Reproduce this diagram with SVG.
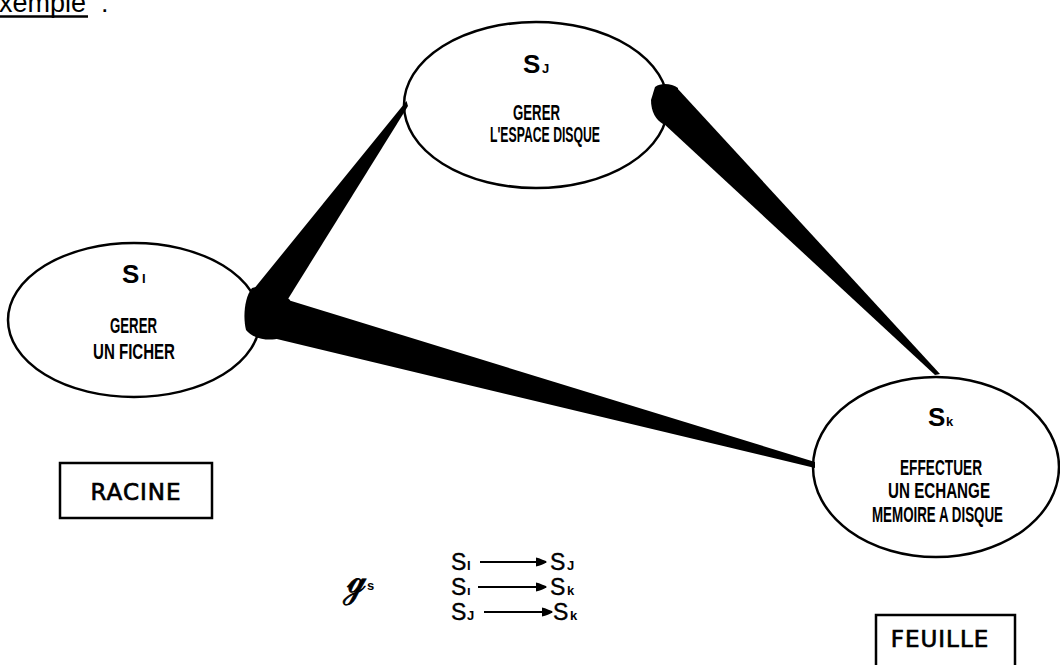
<svg xmlns="http://www.w3.org/2000/svg" width="1060" height="665" viewBox="0 0 1060 665">
<style>
.node{fill:#fff;stroke:#000;stroke-width:2.5}
.box{fill:#fff;stroke:#000;stroke-width:2.5}
.s{font-family:"Liberation Sans",Arial,sans-serif;font-weight:bold;font-size:26px;fill:#000}
.sub{font-family:"Liberation Sans",Arial,sans-serif;font-weight:bold;font-size:13px;fill:#000}
.r{font-family:"Liberation Sans",Arial,sans-serif;font-size:23px;fill:#000;stroke:#000;stroke-width:0.4}
.rs{font-family:"Liberation Sans",Arial,sans-serif;font-weight:bold;font-size:13px;fill:#000}
.d{font-family:"Liberation Sans",Arial,sans-serif;font-weight:bold;font-size:22px;fill:#000}
.lbl{font-family:"DejaVu Sans",sans-serif;font-size:23px;fill:#000;stroke:#000;stroke-width:0.7}
.wedge{fill:#000;stroke:none}
.arr{stroke:#000;stroke-width:2;fill:none}
</style>
<defs>
<marker id="ah" markerWidth="12" markerHeight="10" refX="10" refY="5" orient="auto" markerUnits="userSpaceOnUse">
<path d="M0,0.5 C4,1.5 8,3 11,5 C8,7 4,8.5 0,9.5 Z" fill="#000"/>
</marker>
</defs>

<g id="title">
<text x="-19" y="12" font-family="Liberation Sans,Arial,sans-serif" font-size="27" fill="#000">Exemple</text>
<text x="101" y="12" font-family="Liberation Sans,Arial,sans-serif" font-size="27" fill="#000">:</text>
<line x1="0" y1="16.5" x2="88" y2="16.5" stroke="#000" stroke-width="2.5"/>
</g>

<g id="node-sj">
<ellipse class="node" cx="536" cy="105" rx="132" ry="83"/>
<text class="s" x="523" y="73">S</text><text class="sub" x="542" y="73">J</text>
<text class="d" x="513" y="120" textLength="47" lengthAdjust="spacingAndGlyphs">GERER</text>
<text class="d" x="490" y="142" textLength="110" lengthAdjust="spacingAndGlyphs">L'ESPACE DISQUE</text>
</g>

<g id="node-si">
<ellipse class="node" cx="134" cy="320" rx="126" ry="77"/>
<text class="s" x="122" y="283">S</text><text class="sub" x="142" y="283">I</text>
<text class="d" x="110" y="333" textLength="47" lengthAdjust="spacingAndGlyphs">GERER</text>
<text class="d" x="93" y="359" textLength="82" lengthAdjust="spacingAndGlyphs">UN FICHER</text>
</g>

<g id="node-sk">
<ellipse class="node" cx="936" cy="467" rx="123" ry="90"/>
<text class="s" x="928" y="426">S</text><text class="sub" x="946" y="426">k</text>
<text class="d" x="900" y="475" textLength="82" lengthAdjust="spacingAndGlyphs">EFFECTUER</text>
<text class="d" x="888" y="498" textLength="102" lengthAdjust="spacingAndGlyphs">UN ECHANGE</text>
<text class="d" x="872" y="522" textLength="131" lengthAdjust="spacingAndGlyphs">MEMOIRE A DISQUE</text>
</g>

<g id="connectors">
<polygon class="wedge" points="406.5,101 408,106 405,111 288,299 253,290"/>
<polygon class="wedge" points="288,300 815,462 815,468 256,334"/>
<polygon class="wedge" points="677,88 940,374 935,375 663,123"/>
<path class="wedge" d="M252,288 C262,284 280,290 290,300 C292,315 288,330 280,338 C268,342 252,338 246,330 C243,318 244,298 252,288 Z"/>
<path class="wedge" d="M655,87 C662,82 672,84 678,88 L676,112 C672,120 667,124 663,124 C656,120 651,112 651,100 Z"/>
</g>

<g id="racine">
<rect class="box" x="60" y="463" width="152" height="55"/>
<text class="lbl" x="136" y="500" text-anchor="middle" letter-spacing="1">RACINE</text>
</g>

<g id="feuille">
<rect class="box" x="876" y="615" width="139" height="60"/>
<text class="lbl" x="940" y="647" text-anchor="middle" letter-spacing="1">FEUILLE</text>
</g>

<g id="gs">
<text x="346" y="592" font-family="DejaVu Serif,serif" font-size="34" fill="#000" stroke="#000" stroke-width="0.8">ℊ</text>
<text x="367" y="590" font-family="Liberation Sans,Arial,sans-serif" font-size="13" font-weight="bold" fill="#000">s</text>
</g>

<g id="relations">
<text class="r" x="451" y="570">S</text><text class="rs" x="467" y="570">I</text>
<line class="arr" x1="480" y1="562" x2="546" y2="562" marker-end="url(#ah)"/>
<text class="r" x="550" y="570">S</text><text class="rs" x="567" y="570">J</text>

<text class="r" x="451" y="595">S</text><text class="rs" x="467" y="595">ı</text>
<line class="arr" x1="478" y1="587" x2="546" y2="587" marker-end="url(#ah)"/>
<text class="r" x="550" y="595">S</text><text class="rs" x="567" y="595">k</text>

<text class="r" x="451" y="620">S</text><text class="rs" x="467" y="620">J</text>
<line class="arr" x1="484" y1="612" x2="552" y2="612" marker-end="url(#ah)"/>
<text class="r" x="553" y="620">S</text><text class="rs" x="570" y="620">k</text>
</g>
</svg>
